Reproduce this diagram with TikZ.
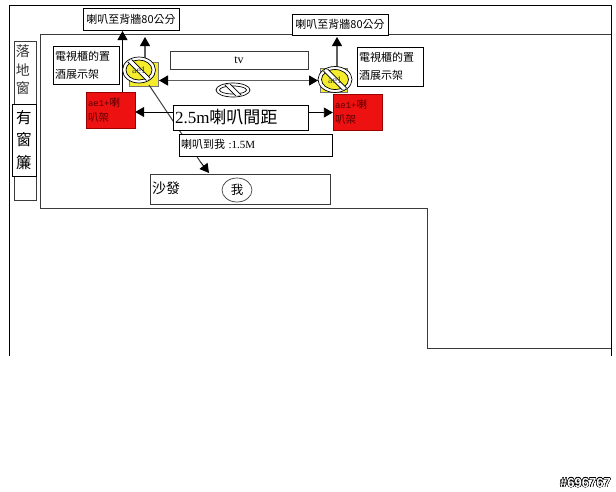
\documentclass[tikz,border=0pt]{standalone}
\usepackage{fontspec}
\setmainfont{Liberation Serif}
\newfontfamily\cj{Noto Sans CJK TC}
\newfontfamily\mn{Liberation Mono}
\newfontfamily\wm{Liberation Sans}[BoldFont={Liberation Sans Bold}]
\usepackage{contour}
\contourlength{0.4pt}
\usetikzlibrary{arrows.meta,shapes.geometric}
\definecolor{wallc}{HTML}{3A3A3A}
\definecolor{linec}{HTML}{5E5E5E}
\definecolor{spk}{HTML}{F4EC2C}
\definecolor{redb}{HTML}{EE1111}
\tikzset{
  tipk/.tip={Triangle[width=10pt,length=9pt,color=black,fill=black]},
  wall/.style={draw=wallc,line width=0.9pt},
  box/.style={draw=black,fill=white,line width=0.8pt,inner sep=2pt,font=\fontsize{11}{18}\selectfont},
  vbox/.style={draw=wallc,fill=white,line width=0.8pt,inner sep=0pt,align=center},
  redbox/.style={draw=red!60!black,fill=redb,line width=0.4pt,inner sep=2pt,minimum width=49pt,minimum height=36pt,text width=45pt,align=left,text=red!35!black,font=\fontsize{10.5}{15}\selectfont},
  arr/.style={-tipk,black,line width=0.9pt},
  arrg/.style={-tipk,draw=linec,line width=1.2pt},
  darr/.style={tipk-tipk,draw=linec,line width=1.2pt},
  ring/.style={draw=black,ellipse,line width=0.7pt,inner sep=0pt},
}
\newcommand{\nosign}[6]{%
  % name, x, y, rx, ry, inner colour
  \node[ring,fill=white,minimum width=#4*2pt,minimum height=#5*2pt] (#1) at (#2,#3) {};
  \node[ring,fill=#6,minimum width=#4*2pt-7pt,minimum height=#5*2pt-6pt] (#1i) at (#2,#3) {};
}
\newcommand{\nobar}[4]{%
  % x, y, rx, ry
  \begin{scope}
    \clip (#1,#2) ellipse [x radius=#3-1,y radius=#4-1];
    \draw[line width=5pt] (#1-#4,#2-#4) -- (#1+#4,#2+#4);
    \draw[white,line width=3.4pt] (#1-#4,#2-#4) -- (#1+#4,#2+#4);
  \end{scope}
}
\begin{document}
\begin{tikzpicture}[x=1pt,y=-1pt]
\useasboundingbox (0,0) rectangle (616,491);
\fill[white] (0,0) rectangle (616,491);
% outer and inner walls
\coordinate (oa) at (9.5,356);
\coordinate (ob) at (9.5,5);
\coordinate (oc) at (611.5,5);
\coordinate (od) at (611.5,356);
\draw[black,line width=0.9pt] (oa) -- (ob) -- (oc) -- (od);
\coordinate (ia) at (611,34);
\coordinate (ib) at (40.5,34);
\coordinate (ic) at (40.5,208);
\coordinate (id) at (427,208);
\coordinate (ie) at (427,348.5);
\coordinate (if) at (611,348.5);
\draw[wall] (ia) -- (ib) -- (ic) -- (id) -- (ie) -- (if);
% window and curtain
\node[vbox,minimum width=22pt,minimum height=159pt] (win) at (25,120.5) {};
\node[font=\fontsize{14}{18.5}\selectfont\cj,align=center,inner sep=0pt,text=black!80] (wint) at (23,70) {落\\地\\窗};
\node[vbox,draw=black,minimum width=24pt,minimum height=72pt,font=\fontsize{15.5}{22.5}\selectfont\cj] (cur) at (24,140) {有\\窗\\簾};
% speaker bases
\node[draw=wallc!70,fill=spk,minimum width=29pt,minimum height=24pt,inner sep=0pt,line width=0.4pt] (sqL) at (143.5,74) {};
\node[draw=wallc!70,fill=spk,minimum width=27pt,minimum height=24pt,inner sep=0pt,line width=0.4pt] (sqR) at (333.5,80) {};
% red stands
\node[redbox] (redL) at (110.5,110) {\fontsize{9}{15}\selectfont\mn ae1+\fontsize{10.5}{15}\selectfont\cj 喇\\\cj 叭架};
\node[redbox] (redR) at (357.5,112) {\fontsize{9}{15}\selectfont\mn ae1+\fontsize{10.5}{15}\selectfont\cj 喇\\\cj 叭架};
% main labels
\node[box,minimum width=96pt,minimum height=22pt] (topL) at (131,19) {\cj 喇叭至背牆80公分};
\node[box,minimum width=96pt,minimum height=21pt] (topR) at (340,24.5) {\cj 喇叭至背牆80公分};
\node[box,text width=62pt,minimum height=38pt,align=left] (cabL) at (86,65) {\cj 電視櫃的置\\\cj 酒展示架};
\node[box,text width=62pt,minimum height=39pt,align=left] (cabR) at (390,66.5) {\cj 電視櫃的置\\\cj 酒展示架};
\node[box,minimum width=138pt,minimum height=18pt,draw=wallc,font=\fontsize{12}{12}\selectfont] (tv) at (239,60) {tv};
% connector helpers
\coordinate (ly) at (0,112);
\coordinate (ry) at (0,112.5);
\coordinate (tipA) at (122.5,31);
\coordinate (tailA) at (122.5,92);
\coordinate (tipB) at (145,37);
\coordinate (tipC) at (337,37);
\coordinate (tipD) at (209,173);
\coordinate (tailD) at (149,85);
\coordinate (midD) at (200.5,162);
\coordinate (dl) at (159,80.5);
\coordinate (dr) at (318,80.5);
% connectors
\draw[arr] (tailA) -- (tipA);
\draw[arrg] (sqL.north -| tipB) -- (tipB);
\draw[arrg] (sqR.north -| tipC) -- (tipC);
\draw[darr] (dl) -- (dr);
\draw[black!75,line width=1pt] (tailD) -- (midD);
\draw[arr] (midD) -- (tipD);
% no-signs
\nosign{sgL}{139}{70}{16.5}{13}{spk}
\nobar{139}{70}{16.5}{13}
\node[font=\fontsize{10}{10}\selectfont,text=black!75,inner sep=0pt] (sgLt) at (139,70.5) {ae1};
\nosign{sgR}{335}{79.5}{17}{13}{spk}
\nobar{335}{79.5}{17}{13}
\node[font=\fontsize{10}{10}\selectfont,text=black!75,inner sep=0pt] (sgRt) at (335,80) {ae1};
\nosign{sgM}{233}{90}{17}{7}{white}
\nobar{233}{90}{17}{7}
% centre labels
\node[box,text width=131pt,minimum height=25pt,align=left,font=\fontsize{17}{20}\selectfont] (b25) at (240.5,117.5) {2.5m\cj 喇叭間距};
\draw[arr] (b25.west |- ly) -- (redL.east |- ly);
\draw[arr] (b25.east |- ry) -- (redR.west |- ry);
\node[box,text width=149pt,minimum height=22pt,align=left] (dist) at (255.5,145) {\raisebox{1.5pt}{\cj 喇叭到我 \rmfamily :1.5M}};
\node[box,draw=wallc,text width=176pt,minimum height=30pt,align=left,font=\fontsize{14}{16}\selectfont] (sofa) at (240,189) {\raisebox{2pt}{\cj 沙發}};
\node[draw=wallc,ellipse,fill=white,minimum width=30pt,minimum height=24pt,inner sep=0pt,line width=0.7pt,font=\fontsize{12.5}{14}\selectfont\cj] (me) at (237,190) {我};
% watermark
\node[anchor=east,inner sep=0pt,font=\fontsize{13}{14}\bfseries\wm] (mark) at (611,483) {\contour{black}{\textcolor{white}{\#696767}}};
\end{tikzpicture}
\end{document}
